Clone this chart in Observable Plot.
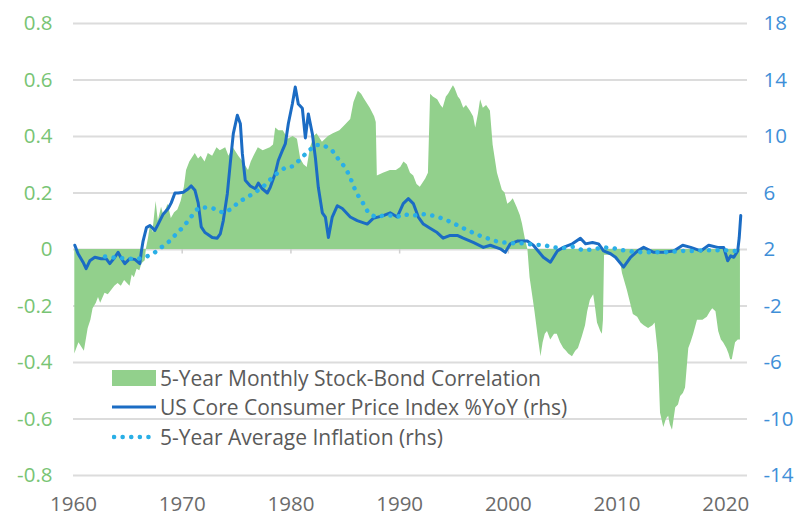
<!DOCTYPE html>
<html>
<head>
<meta charset="utf-8">
<script src="https://cdn.jsdelivr.net/npm/d3@7"></script>
<script src="https://cdn.jsdelivr.net/npm/@observablehq/plot@0.6"></script>
<style>
  html, body { margin: 0; padding: 0; background: #fff; }
  #wrap { position: relative; width: 803px; height: 517px; font-family: "Open Sans", sans-serif; }
  #legend { position: absolute; left: 112px; top: 363px; color: #5a5a5a; font-size: 21px; }
  .row { display: flex; align-items: center; height: 29.5px; white-space: nowrap; }
  .sw { width: 44px; height: 16px; margin-right: 4px; display: inline-block; }
</style>
</head>
<body>
<div id="wrap"></div>
<script>
// 5-Year Monthly Stock-Bond Correlation (lhs)
const corrYears = [1960.12,1960.5,1961.0,1961.35,1961.6,1961.8,1962.1,1962.3,1962.5,1962.9,1963.2,1963.5,1963.8,1964.1,1964.4,1964.7,1965.2,1965.4,1965.6,1965.85,1966.1,1966.3,1966.6,1966.7,1966.9,1967.1,1967.3,1967.6,1967.8,1968.1,1968.3,1968.7,1969.0,1969.3,1969.6,1969.9,1970.2,1970.4,1970.7,1971.2,1971.5,1971.75,1972.1,1972.4,1972.8,1973.2,1973.5,1974.0,1974.3,1974.7,1975.2,1975.6,1976.1,1976.35,1976.6,1977.0,1977.45,1978.1,1978.4,1978.6,1978.9,1979.3,1979.75,1980.2,1980.6,1980.9,1981.2,1981.5,1981.8,1982.15,1982.4,1982.9,1983.45,1983.9,1984.5,1985.0,1985.5,1985.8,1986.2,1986.5,1986.8,1987.3,1987.7,1987.85,1987.95,1988.5,1989.15,1989.7,1990.1,1990.4,1990.7,1991.0,1991.3,1991.6,1991.9,1992.4,1992.65,1992.85,1993.1,1993.5,1993.8,1994.0,1994.3,1994.5,1994.8,1994.95,1995.1,1995.4,1995.6,1995.9,1996.15,1996.5,1996.8,1997.0,1997.25,1997.45,1997.7,1998.0,1998.35,1998.6,1999.0,1999.45,1999.7,1999.95,2000.25,2000.45,2000.8,2001.1,2001.3,2001.55,2001.8,2002.0,2002.3,2002.45,2002.75,2003.0,2003.2,2003.4,2003.6,2003.9,2004.25,2004.5,2004.8,2005.1,2005.35,2005.55,2005.9,2006.2,2006.45,2006.8,2007.1,2007.3,2007.55,2007.85,2008.0,2008.2,2008.5,2008.65,2008.75,2008.85,2009.4,2009.85,2010.3,2010.5,2010.95,2011.5,2011.9,2012.2,2012.5,2012.9,2013.3,2013.5,2013.8,2014.0,2014.3,2014.55,2014.75,2014.9,2015.1,2015.4,2015.65,2015.85,2016.1,2016.3,2016.6,2016.8,2017.05,2017.4,2017.9,2018.3,2018.6,2018.8,2019.1,2019.35,2019.6,2019.8,2020.1,2020.3,2020.45,2020.6,2020.9,2021.15,2021.35];
const corrVals = [-0.37,-0.33,-0.36,-0.28,-0.25,-0.21,-0.19,-0.17,-0.19,-0.155,-0.16,-0.145,-0.13,-0.12,-0.13,-0.11,-0.13,-0.09,-0.10,-0.07,-0.075,-0.05,-0.04,0.0,0.04,0.09,0.06,0.17,0.10,0.15,0.12,0.16,0.11,0.13,0.14,0.17,0.22,0.28,0.31,0.34,0.32,0.33,0.31,0.34,0.33,0.36,0.35,0.36,0.33,0.36,0.33,0.31,0.28,0.31,0.33,0.36,0.35,0.36,0.37,0.43,0.42,0.42,0.39,0.40,0.39,0.32,0.30,0.29,0.36,0.40,0.41,0.38,0.40,0.41,0.42,0.44,0.46,0.52,0.56,0.55,0.53,0.50,0.47,0.45,0.26,0.27,0.28,0.28,0.29,0.31,0.30,0.27,0.26,0.23,0.22,0.25,0.27,0.55,0.54,0.53,0.51,0.50,0.54,0.55,0.57,0.58,0.57,0.54,0.53,0.50,0.51,0.49,0.47,0.43,0.48,0.53,0.50,0.51,0.49,0.37,0.27,0.21,0.20,0.16,0.17,0.18,0.15,0.12,0.09,0.04,0.0,-0.10,-0.18,-0.22,-0.31,-0.38,-0.33,-0.30,-0.29,-0.32,-0.30,-0.30,-0.33,-0.35,-0.36,-0.37,-0.38,-0.36,-0.35,-0.31,-0.27,-0.22,-0.18,-0.16,-0.20,-0.26,-0.29,-0.30,-0.25,-0.02,-0.02,-0.03,-0.04,-0.085,-0.145,-0.23,-0.24,-0.26,-0.27,-0.28,-0.27,-0.26,-0.37,-0.58,-0.63,-0.60,-0.59,-0.62,-0.64,-0.56,-0.55,-0.52,-0.51,-0.49,-0.35,-0.33,-0.30,-0.25,-0.25,-0.24,-0.22,-0.21,-0.22,-0.29,-0.32,-0.33,-0.35,-0.37,-0.39,-0.39,-0.33,-0.32,-0.32];

// US Core CPI %YoY (rhs)
const cpiYears = [1960.12,1960.42,1960.88,1961.16,1961.5,1961.96,1962.54,1963.0,1963.34,1963.8,1964.1,1964.38,1964.72,1965.18,1965.64,1966.1,1966.25,1966.4,1966.71,1967.03,1967.49,1967.79,1968.25,1968.71,1968.99,1969.33,1969.63,1970.1,1970.56,1970.83,1971.17,1971.47,1971.75,1972.09,1972.3,1972.76,1973.22,1973.5,1973.78,1974.15,1974.42,1974.7,1975.07,1975.35,1975.53,1975.8,1976.26,1976.72,1977.0,1977.37,1977.83,1978.1,1978.56,1978.84,1979.21,1979.49,1979.76,1980.13,1980.4,1980.68,1981.05,1981.33,1981.6,1981.97,1982.25,1982.52,1982.89,1983.17,1983.45,1983.8,1984.27,1984.73,1985.46,1986.1,1987.02,1987.57,1988.5,1989.13,1989.78,1990.33,1990.8,1991.26,1991.72,1992.18,1992.8,1993.45,1994.0,1994.65,1995.3,1995.85,1996.77,1997.7,1998.34,1999.26,1999.72,2000.18,2000.83,2001.75,2002.3,2003.22,2003.87,2004.51,2005.06,2005.89,2006.63,2007.1,2007.74,2008.3,2008.76,2009.4,2009.86,2010.6,2011.24,2011.9,2012.45,2013.37,2014.29,2015.21,2016.04,2016.78,2017.7,2018.43,2019.26,2019.81,2020.18,2020.46,2020.74,2021.1,2021.24,2021.38];
const cpiVals = [2.3,1.7,1.1,0.65,1.2,1.45,1.35,1.35,1.0,1.45,1.8,1.4,1.0,1.35,1.3,1.0,1.9,2.6,3.55,3.7,3.35,3.8,4.5,4.9,5.3,6.0,6.0,6.05,6.3,6.5,6.2,5.3,3.6,3.2,3.1,2.85,2.8,3.1,4.05,5.95,8.1,10.2,11.5,10.9,8.8,6.9,6.5,6.3,6.7,6.3,6.0,6.4,7.4,8.3,9.0,9.5,10.9,12.3,13.5,12.3,12.0,9.9,11.6,10.2,8.5,6.4,4.6,4.3,2.85,4.3,5.1,4.9,4.3,4.05,3.8,4.2,4.4,4.6,4.3,5.25,5.6,5.25,4.3,3.8,3.5,3.2,2.8,3.0,3.0,2.8,2.5,2.15,2.3,2.05,1.8,2.4,2.6,2.6,2.3,1.45,1.1,1.9,2.15,2.4,2.8,2.4,2.5,2.4,1.9,1.7,1.45,0.75,1.45,1.9,2.15,1.8,1.8,1.9,2.3,2.15,1.9,2.3,2.15,2.15,1.2,1.55,1.45,1.9,2.85,4.4];

// 5-Year Average Inflation (rhs)
const avgYears = [1962.9,1963.46,1964.1,1965.18,1965.95,1966.57,1967.33,1968.07,1968.71,1969.33,1970.1,1970.71,1971.29,1971.75,1972.86,1973.78,1974.6,1975.16,1975.98,1976.72,1977.45,1978.1,1978.74,1979.49,1980.22,1980.87,1981.51,1982.25,1982.98,1983.8,1984.36,1985.0,1985.46,1985.74,1986.2,1986.66,1987.12,1987.77,1988.5,1989.33,1989.78,1990.33,1991.26,1992.18,1993.1,1993.93,1994.85,1995.6,1996.3,1997.13,1998.05,1998.8,1999.5,2000.4,2001.33,2002.25,2003.35,2004.1,2005.0,2005.93,2006.85,2007.77,2008.7,2009.6,2010.5,2011.45,2012.36,2013.37,2014.29,2015.2,2016.1,2017.0,2017.97,2018.9,2019.81,2020.74,2021.2];
const avgVals = [1.5,1.45,1.4,1.35,1.35,1.45,1.7,2.15,2.5,3.0,3.6,4.2,4.8,5.0,4.9,4.6,4.9,5.35,5.7,6.05,6.45,6.95,7.4,7.8,7.9,8.4,8.9,9.4,9.4,9.0,8.4,7.8,7.1,6.5,5.8,5.25,4.6,4.3,4.4,4.4,4.3,4.5,4.4,4.5,4.4,4.2,3.9,3.6,3.35,3.05,2.8,2.6,2.5,2.45,2.45,2.35,2.3,2.15,2.1,2.2,1.95,2.0,2.15,2.1,1.95,1.85,1.8,1.8,1.8,1.85,1.9,1.9,1.95,1.95,1.95,1.9,1.9];

const leftTicks = [-0.8,-0.6,-0.4,-0.2,0,0.2,0.4,0.6,0.8];
const rightTicks = [-14,-10,-6,-2,2,6,10,14,18];
const xTicks = [1960,1970,1980,1990,2000,2010,2020];
const decadeTicks = [1970,1980,1990,2000,2010,2020];

const legendLabels = ["5-Year Monthly Stock-Bond Correlation","US Core Consumer Price Index %YoY (rhs)","5-Year Average Inflation (rhs)"];

const GREEN = "#92d08c", GREEN_TXT = "#78c474", BLUE = "#1b6cc4", BLUE_TXT = "#3f8fd8", LIGHT = "#2aafe6";

const corr = corrYears.map((x, i) => ({x, y: corrVals[i]}));
const cpi = cpiYears.map((x, i) => ({x, v: cpiVals[i]}));
const avg = avgYears.map((x, i) => ({x, v: avgVals[i]}));
const toL = v => (v - 2) / 20; // rhs -> lhs

const chart = Plot.plot({
  width: 803,
  height: 517,
  marginLeft: 73,
  marginRight: 56,
  marginTop: 23,
  marginBottom: 42,
  style: {fontFamily: "'Open Sans', sans-serif", fontSize: "20.5px", background: "#fff"},
  x: {domain: [1960, 2022]},
  y: {domain: [-0.8, 0.8]},
  marks: [
    Plot.ruleY(leftTicks, {stroke: "#dcdcdc", strokeWidth: 2}),
    Plot.ruleX(decadeTicks, {y1: 0, y2: -0.016, stroke: "#d0d0d0", strokeWidth: 1.5}),
    Plot.areaY(corr, {x: "x", y: "y", fill: GREEN}),
    Plot.line(cpi, {x: "x", y: d => toL(d.v), stroke: BLUE, strokeWidth: 3, strokeLinejoin: "round"}),
    Plot.line(avg, {x: "x", y: d => toL(d.v), stroke: LIGHT, strokeWidth: 4.5, strokeDasharray: "0.1 8.5", strokeLinecap: "round"}),
    Plot.axisY(leftTicks, {anchor: "left", label: null, tickSize: 0, tickPadding: 21, fill: GREEN_TXT,
      tickFormat: d => Math.abs(d) < 1e-9 ? "0" : d.toFixed(1)}),
    Plot.axisY(rightTicks.map(toL), {anchor: "right", label: null, tickSize: 0, tickPadding: 16, fill: BLUE_TXT,
      tickFormat: d => String(Math.round(d * 20 + 2))}),
    Plot.axisX(xTicks, {anchor: "bottom", label: null, tickSize: 0, tickPadding: 21, fill: "#6b6b6b",
      tickFormat: d => String(d)})
  ]
});

const wrap = document.getElementById("wrap");
wrap.appendChild(chart);

const legend = document.createElement("div");
legend.id = "legend";
const swatches = [
  `<svg class="sw" viewBox="0 0 44 16"><rect x="0" y="0" width="44" height="16" fill="${GREEN}"/></svg>`,
  `<svg class="sw" viewBox="0 0 44 16"><line x1="0" y1="8" x2="44" y2="8" stroke="${BLUE}" stroke-width="3"/></svg>`,
  `<svg class="sw" viewBox="0 0 44 16"><line x1="2" y1="8" x2="44" y2="8" stroke="${LIGHT}" stroke-width="4.5" stroke-dasharray="0.1 8.5" stroke-linecap="round"/></svg>`
];
legendLabels.forEach((t, i) => {
  const row = document.createElement("div");
  row.className = "row";
  row.innerHTML = swatches[i];
  const span = document.createElement("span");
  span.textContent = t;
  row.appendChild(span);
  legend.appendChild(row);
});
wrap.appendChild(legend);
</script>
</body>
</html>
